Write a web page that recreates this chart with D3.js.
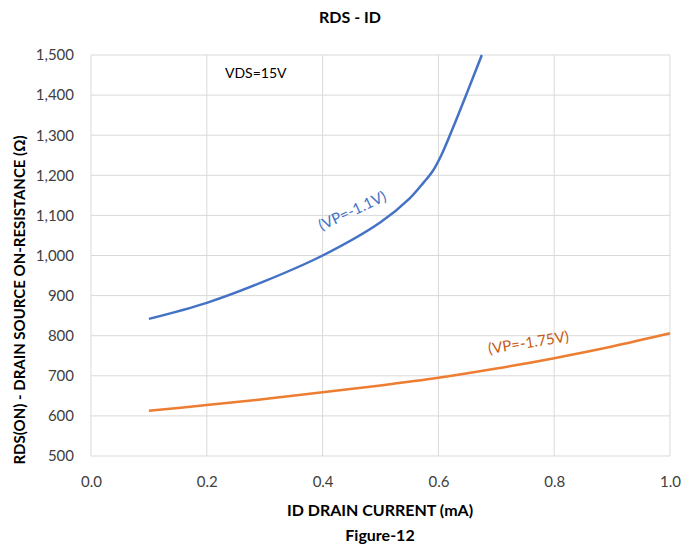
<!DOCTYPE html>
<html>
<head>
<meta charset="utf-8">
<script src="https://cdn.jsdelivr.net/npm/d3@7"></script>
<style>
  body { margin: 0; background: #fff; }
  svg { font-family: Lato, "Open Sans", sans-serif; }
</style>
</head>
<body>
<div id="chart"></div>
<script>
// data
var xTicks = [0.0, 0.2, 0.4, 0.6, 0.8, 1.0];
var yTicks = [500, 600, 700, 800, 900, 1000, 1100, 1200, 1300, 1400, 1500];

var blueId = [0.1, 0.2, 0.3, 0.4, 0.5, 0.55, 0.575, 0.59, 0.605, 0.625, 0.65, 0.675];
var blueRds = [842, 882, 936, 1000, 1083, 1142, 1183, 1210, 1250, 1318, 1408, 1500];

var orangeId = [0.1, 0.2, 0.3, 0.4, 0.5, 0.6, 0.7, 0.8, 0.9, 1.0];
var orangeRds = [613, 627, 642, 659, 676, 695, 718, 744, 773, 806];

var W = 700, H = 548;
var margin = {left: 91, right: 30, top: 55, bottom: 92};

var svg = d3.select("#chart").append("svg")
    .attr("width", W)
    .attr("height", H);

var x = d3.scaleLinear().domain([0, 1]).range([margin.left, W - margin.right]);
var y = d3.scaleLinear().domain([500, 1500]).range([H - margin.bottom, margin.top]);

// grid
svg.append("g").selectAll("line.v")
    .data(xTicks).enter().append("line")
    .attr("x1", d => x(d)).attr("x2", d => x(d))
    .attr("y1", y(500)).attr("y2", y(1500))
    .style("stroke", "#d9d9d9").style("stroke-width", 1);

svg.append("g").selectAll("line.h")
    .data(yTicks).enter().append("line")
    .attr("x1", x(0)).attr("x2", x(1))
    .attr("y1", d => y(d)).attr("y2", d => y(d))
    .style("stroke", "#d9d9d9").style("stroke-width", 1);

// axes (labels only)
var xAxis = svg.append("g")
    .attr("transform", "translate(0," + y(500) + ")")
    .call(d3.axisBottom(x).tickValues(xTicks).tickFormat(d3.format(".1f")).tickSize(0).tickPadding(20));
var yAxis = svg.append("g")
    .attr("transform", "translate(" + x(0) + ",0)")
    .call(d3.axisLeft(y).tickValues(yTicks).tickFormat(d3.format(",")).tickSize(0).tickPadding(17));
[xAxis, yAxis].forEach(function(a) {
    a.select(".domain").remove();
    a.selectAll("text").style("font-size", "15px").style("fill", "#404040")
        .style("font-family", "Lato, 'Open Sans', sans-serif");
});

// lines
var line = d3.line().x(d => x(d[0])).y(d => y(d[1])).curve(d3.curveCatmullRom.alpha(0.5));

svg.append("path")
    .datum(d3.zip(orangeId, orangeRds))
    .attr("d", line)
    .style("fill", "none")
    .style("stroke", "#ED7D31")
    .style("stroke-width", 2.5);

svg.append("path")
    .datum(d3.zip(blueId, blueRds))
    .attr("d", line)
    .style("fill", "none")
    .style("stroke", "#4472C4")
    .style("stroke-width", 2.5);

// annotations
svg.append("text")
    .attr("transform", "translate(" + x(0.455) + "," + y(1100) + ") rotate(-25)")
    .attr("text-anchor", "middle")
    .style("font-size", "15px")
    .style("fill", "#4472C4")
    .text("(VP=-1.1V)");

svg.append("text")
    .attr("transform", "translate(" + x(0.757) + "," + y(770) + ") rotate(-9)")
    .attr("text-anchor", "middle")
    .style("font-size", "15px")
    .style("fill", "#C55A11")
    .text("(VP=-1.75V)");

svg.append("text")
    .attr("x", 225).attr("y", 78)
    .style("font-size", "14px")
    .style("fill", "#000")
    .text("VDS=15V");

// titles
svg.append("text")
    .attr("x", 350).attr("y", 23)
    .attr("text-anchor", "middle")
    .style("font-size", "16px").style("font-weight", "bold")
    .text("RDS - ID");

svg.append("text")
    .attr("x", 380).attr("y", 516)
    .attr("text-anchor", "middle")
    .style("font-size", "16px").style("font-weight", "bold")
    .text("ID DRAIN CURRENT (mA)");

svg.append("text")
    .attr("x", 380).attr("y", 541)
    .attr("text-anchor", "middle")
    .style("font-size", "16px").style("font-weight", "bold")
    .text("Figure-12");

svg.append("text")
    .attr("transform", "translate(25,300) rotate(-90)")
    .attr("text-anchor", "middle")
    .style("font-size", "15px").style("font-weight", "bold")
    .text("RDS(ON) - DRAIN SOURCE ON-RESISTANCE (Ω)");
</script>
</body>
</html>
